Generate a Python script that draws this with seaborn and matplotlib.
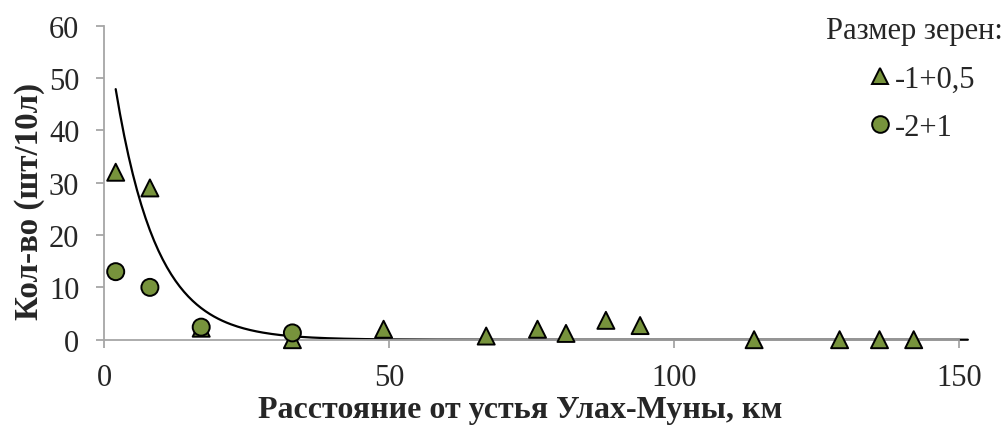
import numpy as np
import pandas as pd
import matplotlib
matplotlib.use("Agg")
import matplotlib.pyplot as plt
import seaborn as sns

# Grain counts along the river, by grain size class
dist_small = [2, 8, 17, 33, 49, 67, 76, 81, 88, 94, 114, 129, 136, 142]
count_small = [32, 29, 2.2, 0, 2, 0.7, 2, 1.2, 3.7, 2.7, 0, 0, 0, 0]
dist_large = [2, 8, 17, 33]
count_large = [13, 10, 2.4, 1.3]
labels = ["-1+0,5", "-2+1"]

# Exponential trend y = a * exp(-b * x)
trend_a = 63.1
trend_b = 0.138
trend_range = (2, 151.5)

x_ticks = [0, 50, 100, 150]
y_ticks = [0, 10, 20, 30, 40, 50, 60]

df = pd.concat([
    pd.DataFrame({"dist": dist_small, "count": count_small, "size": labels[0]}),
    pd.DataFrame({"dist": dist_large, "count": count_large, "size": labels[1]}),
], ignore_index=True)

sns.set_theme(style="white")
plt.rcParams["font.family"] = ["Liberation Serif", "DejaVu Serif"]

olive = "#77933C"
grey = "#A6A6A6"
FS = 22

W, H = 1008, 427
fig = plt.figure(figsize=(W / 100, H / 100), dpi=100)
ax_l, ax_r, ax_t, ax_b = 104.3, 959.3, 26.7, 340.7
ax = fig.add_axes([ax_l / W, 1 - ax_b / H, (ax_r - ax_l) / W, (ax_b - ax_t) / H])

tx = np.linspace(trend_range[0], trend_range[1], 400)
trend = pd.DataFrame({"dist": tx, "count": trend_a * np.exp(-trend_b * tx)})
sns.lineplot(data=trend, x="dist", y="count", color="black", lw=1.6,
             ax=ax, legend=False, zorder=2, clip_on=False)

sns.scatterplot(data=df, x="dist", y="count", style="size",
                markers={labels[0]: "^", labels[1]: "o"},
                color=olive, edgecolor="black", linewidth=1.4, s=150,
                ax=ax, zorder=3, clip_on=False)

# Reuse the seaborn handles in a custom legend placed outside the axes
handles, hl = ax.get_legend_handles_labels()
if ax.get_legend() is not None:
    ax.get_legend().remove()
pairs = [(h, l) for h, l in zip(handles, hl) if l in labels]
for h, _ in pairs:
    h.set_markersize(12)
    h.set_markeredgewidth(1.4)
    h.set_markeredgecolor("black")

ax.set_xlim(0, 150)
ax.set_ylim(0, 60)
ax.set_xticks(x_ticks)
ax.set_yticks(y_ticks)

for side in ("top", "right"):
    ax.spines[side].set_visible(False)
for side in ("left", "bottom"):
    ax.spines[side].set_color(grey)
    ax.spines[side].set_linewidth(1.3)

ax.tick_params(axis="both", which="major", direction="out", length=6,
               width=1.3, color=grey, labelsize=FS, left=True, bottom=True)
ax.tick_params(axis="y", pad=12)
ax.tick_params(axis="x", pad=11)

ax.set_xlabel("Расстояние от устья Улах-Муны, км", fontsize=23,
              fontweight="bold")
ax.set_ylabel("Кол-во (шт/10л)", fontsize=23.8, fontweight="bold")
ax.xaxis.set_label_coords((520 - ax_l) / (ax_r - ax_l), -(396 - ax_b) / (ax_b - ax_t))
ax.yaxis.set_label_coords(-(ax_l - 45) / (ax_r - ax_l), (ax_b - 201) / (ax_b - ax_t))

leg = fig.legend([p[0] for p in pairs], [p[1] for p in pairs], frameon=False,
                 loc="upper left", bbox_to_anchor=(870.8 / W, 1 - 66 / H),
                 fontsize=FS, handlelength=0.6, handletextpad=0.2,
                 labelspacing=0.62, borderpad=0, borderaxespad=0)
fig.text(1003 / W, 1 - 31 / H, "Размер зерен:", fontsize=FS,
         ha="right", va="center")

fig.savefig("out.png", dpi=100)
